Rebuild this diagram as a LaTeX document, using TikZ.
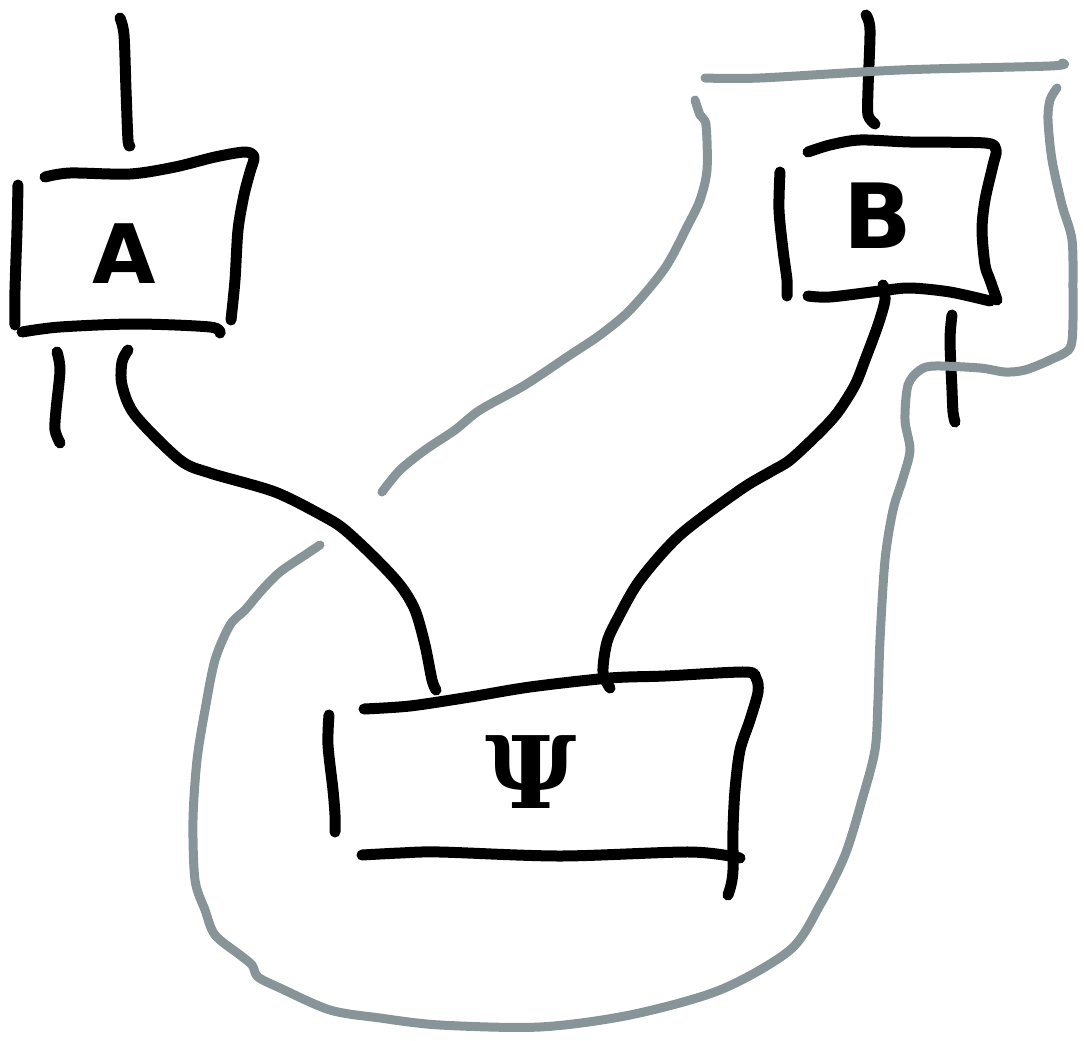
\documentclass[tikz,border=0pt]{standalone}
\usepackage{fontspec}
\newfontfamily\handfont{DejaVu Sans}
\newfontfamily\handserif{DejaVu Serif}
\definecolor{wiregray}{RGB}{135,148,152}
\begin{document}
\begin{tikzpicture}[x=1pt,y=-1pt,
  ink/.style={line width=11pt,line cap=round,line join=round,black},
  gwire/.style={line width=9pt,line cap=round,line join=round,wiregray},
  lbl/.style={inner sep=0pt,font=\handfont\bfseries}]
\useasboundingbox (0,0) rectangle (1084,1041);

% labels
\node[lbl,font=\handfont\bfseries\fontsize{82}{82}\selectfont] (A) at (124,254) {A};
\node[lbl,font=\handfont\bfseries\fontsize{90}{90}\selectfont] (B) at (878,216) {B};
\node[lbl,font=\handserif\bfseries\fontsize{100}{100}\selectfont] (P) at (531,772) {Ψ};

% named wire ends
\coordinate (Atop) at (120,18);
\coordinate (Btop) at (866,15);
\coordinate (Aout) at (128,350);
\coordinate (Bout) at (883,285);
\coordinate (Pin1) at (436,690);
\coordinate (Pin2) at (610,688);

% Box A
\draw[ink] plot[smooth,tension=0.5] coordinates {(45,177)(70,173)(130,174)(175,167)(215,157)(245,152)(254,157)(250,172)(244,195)(238,230)(235,280)(231,320)};
\draw[ink] plot[smooth] coordinates {(18,185)(17,230)(15,290)(15,325)};
\draw[ink] plot[smooth] coordinates {(22,332)(60,327)(135,324)(210,327)(220,333)};
\draw[ink] plot[smooth] coordinates {(Atop)(124,35)(126,90)(128,140)(130,146)};
\draw[ink] plot[smooth] coordinates {(57,352)(60,370)(56,410)(55,430)(60,443)};
\draw[ink] plot[smooth] coordinates {(Aout)(122,362)(122,385)(135,415)(180,460)(210,473)(275,492)(325,517)(345,530)(375,558)(400,585)(415,610)(425,645)(432,680)(Pin1)};

% Box B
\draw[ink] plot[smooth,tension=0.5] coordinates {(808,152)(830,145)(860,140)(910,142)(985,143)(996,150)(993,165)(985,200)(982,230)(985,265)(990,280)(997,300)};
\draw[ink] plot[smooth] coordinates {(780,172)(779,210)(783,250)(787,280)(787,296)};
\draw[ink] plot[smooth] coordinates {(808,296)(830,297)(880,291)(910,288)(950,292)(990,301)};
\draw[ink] plot[smooth] coordinates {(Btop)(870,30)(868,90)(868,115)(875,124)};
\draw[ink] plot[smooth] coordinates {(Bout)(885,300)(878,325)(865,360)(855,385)(838,412)(820,432)(790,460)(770,472)(740,490)(680,535)(640,580)(618,618)(607,642)(603,672)(Pin2)};
\draw[ink] plot[smooth] coordinates {(952,315)(950,340)(952,390)(953,412)(955,422)};

% Psi box
\draw[ink] plot[smooth,tension=0.5] coordinates {(364,709)(410,706)(470,697)(530,687)(610,678)(665,676)(745,672)(756,678)(758,692)(750,720)(740,750)(735,790)(733,830)(733,870)(731,885)(728,895)};
\draw[ink] plot[smooth] coordinates {(329,715)(328,745)(333,790)(335,815)(335,832)};
\draw[ink] plot[smooth] coordinates {(362,855)(400,853)(440,852)(560,856)(690,852)(740,858)};

% gray wires
\draw[gwire] plot[smooth] coordinates {(705,78)(760,78)(900,70)(1050,66)(1062,63)};
\draw[gwire] plot[smooth] coordinates {(695,100)(700,115)(706,125)(707,170)(700,200)(688,225)(665,268)(630,310)(600,335)(570,355)(525,385)(480,410)(455,430)(425,450)(400,470)(382,492)};
\draw[gwire] plot[smooth] coordinates {(320,545)(305,555)(280,572)(262,590)(245,610)(230,625)(215,660)(205,710)(197,760)(193,820)(195,880)(205,910)(215,935)(240,955)(252,965)(258,977)(280,988)(330,1010)(380,1018)(440,1025)(540,1027)(630,1015)(720,990)(790,950)(820,905)(845,855)(862,800)(875,750)(878,700)(880,640)(885,560)(893,510)(903,478)(910,450)(905,420)(908,385)(920,370)(935,366)(980,368)(1005,372)(1025,370)(1050,360)(1070,348)(1073,320)(1073,290)(1072,240)(1062,205)(1052,160)(1048,120)(1050,100)(1057,88)};
\end{tikzpicture}
\end{document}
